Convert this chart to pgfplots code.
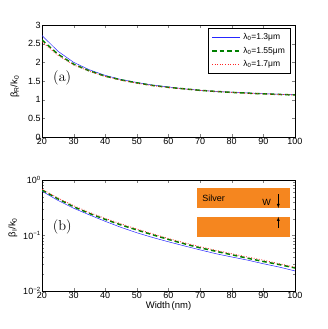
\documentclass[border=0pt]{standalone}
\usepackage{fontspec}
\setmainfont{Liberation Sans}
\usepackage{pgfplots}
\pgfplotsset{compat=1.18}
\definecolor{mgreen}{rgb}{0,0.5,0}
\definecolor{mblue}{rgb}{0.15,0.15,1}
\definecolor{mred}{rgb}{1,0.15,0.15}
\definecolor{silver}{HTML}{F5861F}
\newcommand{\lmfont}{\fontencoding{OT1}\fontfamily{lmr}\fontsize{14}{15}\selectfont}

\tikzset{
  cblue/.style={color=mblue, draw=mblue, line width=0.5pt},
  cgreen/.style={color=mgreen, draw=mgreen, line width=1.5pt, dash pattern=on 4.5pt off 3pt},
  cred/.style={color=mred, draw=mred, line width=0.8pt, dash pattern=on 0.8pt off 1.8pt},
}

\pgfplotsset{
  mystyle/.style={
    scale only axis, width=253pt, anchor=south west,
    xmin=20, xmax=100, xtick={20,30,...,100},
    tick align=inside, tick pos=both,
    xticklabel pos=lower, yticklabel pos=left,
    major tick length=3pt, minor tick length=1.6pt,
    /pgf/number format/assume math mode=true,
    tick label style={font=\fontsize{9}{10}\selectfont, inner sep=1.2pt},
    label style={font=\fontsize{9.5}{10}\selectfont},
  },
}

\begin{document}
\begin{tikzpicture}[x=1pt,y=1pt]
\useasboundingbox (0,0) rectangle (327,329);

\begin{axis}[mystyle, at={(42pt,192pt)}, height=112pt,
  ymin=0, ymax=3, ytick={0,0.5,...,3},
  ylabel={β\textsubscript{R}/k\textsubscript{0}},
  ylabel style={at={(rel axis cs:-0.107,0.45)}, anchor=center},
]
\addplot[cblue] coordinates {(20,2.72)(25,2.30)(30,2.00)(35,1.80)(40,1.65)(45,1.54)(50,1.46)(55,1.39)(60,1.34)(65,1.29)(70,1.25)(75,1.22)(80,1.20)(85,1.18)(90,1.16)(95,1.145)(100,1.13)};
\addplot[cgreen] coordinates {(20,2.60)(25,2.22)(30,1.95)(35,1.77)(40,1.63)(45,1.53)(50,1.45)(55,1.38)(60,1.33)(65,1.29)(70,1.25)(75,1.22)(80,1.195)(85,1.175)(90,1.155)(95,1.14)(100,1.125)};
\addplot[cred] coordinates {(20,2.55)(25,2.19)(30,1.93)(35,1.76)(40,1.62)(45,1.52)(50,1.44)(55,1.375)(60,1.325)(65,1.285)(70,1.25)(75,1.22)(80,1.195)(85,1.17)(90,1.155)(95,1.14)(100,1.125)};
% legend box
\draw[black, line width=0.5pt, fill=white] (rel axis cs:0.656,0.571) rectangle (rel axis cs:0.980,0.973);
\draw[cblue] (rel axis cs:0.672,0.893) -- (rel axis cs:0.783,0.893);
\draw[cgreen] (rel axis cs:0.672,0.768) -- (rel axis cs:0.783,0.768);
\draw[cred] (rel axis cs:0.672,0.652) -- (rel axis cs:0.783,0.652);
\node[anchor=west, inner sep=0pt, font=\fontsize{8.5}{9}\selectfont] at (rel axis cs:0.795,0.893) {λ\textsubscript{0}=1.3μm};
\node[anchor=west, inner sep=0pt, font=\fontsize{8.5}{9}\selectfont] at (rel axis cs:0.795,0.768) {λ\textsubscript{0}=1.55μm};
\node[anchor=west, inner sep=0pt, font=\fontsize{8.5}{9}\selectfont] at (rel axis cs:0.795,0.652) {λ\textsubscript{0}=1.7μm};
\node at (rel axis cs:0.08,0.53) {\lmfont (a)};
\end{axis}

\begin{axis}[mystyle, at={(42pt,38pt)}, height=111pt,
  ymode=log, ymin=0.01, ymax=1, ytick={0.01,0.1,1},
  yticklabels={10\textsuperscript{−2},10\textsuperscript{−1},10\textsuperscript{0}},
  ylabel={β\textsubscript{I}/k\textsubscript{0}},
  ylabel style={at={(rel axis cs:-0.115,0.57)}, anchor=center},
  xlabel={Width\,(nm)},
  xlabel style={yshift=2pt},
]
\fill[silver] (rel axis cs:0.613,0.748) rectangle (rel axis cs:0.980,0.928);
\fill[silver] (rel axis cs:0.613,0.486) rectangle (rel axis cs:0.980,0.667);
\node[anchor=west, font=\fontsize{9}{10}\selectfont] at (rel axis cs:0.62,0.838) {Silver};
\node[font=\fontsize{9}{10}\selectfont] at (rel axis cs:0.888,0.80) {W};
\draw[-latex, line width=0.4pt] (rel axis cs:0.934,0.87) -- (rel axis cs:0.934,0.748);
\draw[-latex, line width=0.4pt] (rel axis cs:0.934,0.57) -- (rel axis cs:0.934,0.667);
\addplot[cblue] coordinates {(20,0.63)(25,0.43)(30,0.31)(35,0.235)(40,0.18)(45,0.14)(50,0.112)(55,0.092)(60,0.077)(65,0.065)(70,0.055)(75,0.047)(80,0.041)(85,0.036)(90,0.031)(95,0.027)(100,0.023)};
\addplot[cgreen] coordinates {(20,0.66)(25,0.46)(30,0.33)(35,0.25)(40,0.195)(45,0.155)(50,0.126)(55,0.103)(60,0.085)(65,0.071)(70,0.060)(75,0.052)(80,0.045)(85,0.039)(90,0.034)(95,0.030)(100,0.026)};
\addplot[cred] coordinates {(20,0.68)(25,0.475)(30,0.345)(35,0.26)(40,0.203)(45,0.162)(50,0.131)(55,0.107)(60,0.088)(65,0.074)(70,0.063)(75,0.054)(80,0.047)(85,0.041)(90,0.036)(95,0.031)(100,0.027)};
\node at (rel axis cs:0.08,0.58) {\lmfont (b)};
\end{axis}
\end{tikzpicture}
\end{document}
